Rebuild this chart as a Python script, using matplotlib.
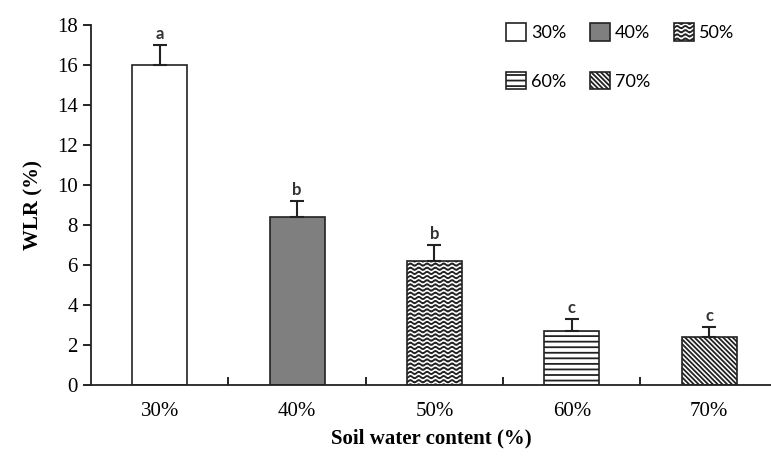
import numpy as np
import matplotlib
matplotlib.use('Agg')
import matplotlib.pyplot as plt
from matplotlib import hatch as mhatch
from matplotlib.path import Path

#%% Datos
categorias = ['30%', '40%', '50%', '60%', '70%']
wlr = [16.0, 8.4, 6.2, 2.7, 2.4]
errores = [1.0, 0.8, 0.8, 0.6, 0.5]
letras = ['a', 'b', 'b', 'c', 'c']

#%% Trama ondulada (sustituye a la trama 'O')
class WaveHatch(mhatch.HatchPatternBase):
    def __init__(self, hatch, density):
        self.num_lines = int(hatch.count('O') * density)
        self.n_pts = 97
        self.num_vertices = self.num_lines * self.n_pts

    def set_vertices_and_codes(self, vertices, codes):
        steps, stepsize = np.linspace(0.0, 1.0, self.num_lines, False, retstep=True)
        steps += stepsize / 2.
        t = np.linspace(0.0, 1.0, self.n_pts)
        for i, s in enumerate(steps):
            k = i * self.n_pts
            vertices[k:k + self.n_pts, 0] = t
            vertices[k:k + self.n_pts, 1] = s + 0.012 * np.sin(2 * np.pi * 12 * t)
            codes[k] = Path.MOVETO
            codes[k + 1:k + self.n_pts] = Path.LINETO

mhatch._hatch_types = [h for h in mhatch._hatch_types if h.__name__ != 'LargeCircles']
mhatch._hatch_types.append(WaveHatch)

plt.rcParams['font.family'] = ['Liberation Serif', 'DejaVu Serif']
plt.rcParams['hatch.linewidth'] = 1.3

bs = chr(92)
colores = ['white', '#7f7f7f', 'white', 'white', 'white']
tramas = [None, None, 'OOOO', '---', bs * 7]

fig = plt.figure(figsize=(7.71, 4.62), dpi=100)
ax = fig.add_axes([0.118, 0.167, 0.882, 0.779])

x = np.arange(len(categorias))
barras = ax.bar(x, wlr, width=0.4, color=colores, edgecolor='#222222',
                linewidth=1.2,
                yerr=[np.zeros(len(wlr)), errores],
                error_kw=dict(ecolor='#222222', elinewidth=1.5, capsize=5, capthick=1.5))
for p, h in zip(barras.patches, tramas):
    p.set_hatch(h)

for xi, v, e, l in zip(x, wlr, errores, letras):
    ax.text(xi, v + e + 0.15, l, ha='center', va='bottom', fontsize=12,
            fontweight='bold', family=['Lato', 'DejaVu Sans'], color='#333333')

ax.set_xlim(-0.5, 4.45)
ax.set_ylim(0, 18)
ax.set_yticks(np.arange(0, 19, 2))
ax.set_xticks(x)
ax.set_xticklabels(categorias)
ax.set_xticks(x[:-1] + 0.5, minor=True)
ax.tick_params(axis='x', which='major', length=0, pad=12, labelsize=15)
ax.tick_params(axis='x', which='minor', direction='in', length=6, width=1.2)
ax.tick_params(axis='y', direction='out', length=6, width=1.2, labelsize=15)
for s in ['top', 'right']:
    ax.spines[s].set_visible(False)
for s in ['left', 'bottom']:
    ax.spines[s].set_linewidth(1.3)
    ax.spines[s].set_color('#222222')

ax.set_xlabel('Soil water content (%)', fontsize=15, fontweight='bold', labelpad=6)
ax.set_ylabel('WLR (%)', fontsize=15, fontweight='bold', labelpad=10)

# orden por filas: 30 40 50 / 60 70
orden = [0, 3, 1, 4, 2]
handles = [barras.patches[i] for i in orden]
etiquetas = [categorias[i] for i in orden]
ax.legend(handles, etiquetas, loc='upper right', bbox_to_anchor=(0.97, 1.05),
          ncol=3, frameon=False, handlelength=1.1, handleheight=1.1,
          handletextpad=0.3, columnspacing=1.3, labelspacing=1.7,
          prop={'family': ['Lato', 'DejaVu Sans'], 'size': 13})

fig.savefig('out.png', dpi=100)
